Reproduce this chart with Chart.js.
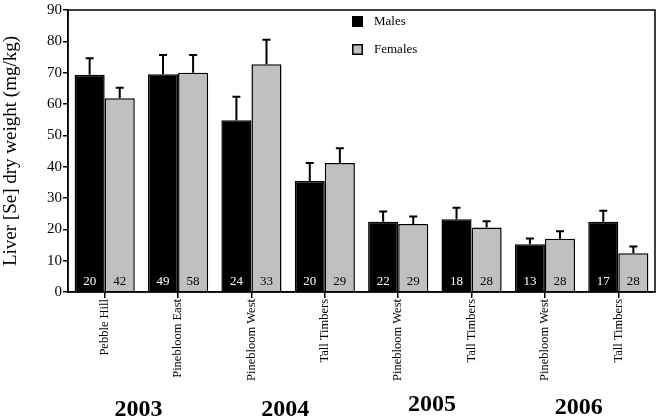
<!DOCTYPE html>
<html>
<head>
<meta charset="utf-8">
<script src="https://cdn.jsdelivr.net/npm/chart.js@4.4.1/dist/chart.umd.min.js"></script>
<style>
  html, body { margin: 0; padding: 0; background: #fff; }
  #wrap { width: 660px; height: 417px; position: relative; }
</style>
</head>
<body>
<div id="wrap"><canvas id="c" width="660" height="417"></canvas></div>
<script>
const categories = ['Pebble Hill', 'Pinebloom East', 'Pinebloom West', 'Tall Timbers',
                    'Pinebloom West', 'Tall Timbers', 'Pinebloom West', 'Tall Timbers'];
const years = ['2003', '2004', '2005', '2006'];
const malesMean = [69.3, 69.5, 54.8, 35.4, 22.4, 23.2, 15.2, 22.4];
const malesSE   = [5.3, 6.1, 7.5, 5.8, 3.3, 3.7, 1.9, 3.5];
const femalesMean = [61.8, 70.0, 72.7, 41.2, 21.7, 20.6, 17.0, 12.4];
const femalesSE   = [3.4, 5.6, 7.8, 4.7, 2.4, 2.0, 2.4, 2.1];
const malesN   = [20, 49, 24, 20, 22, 18, 13, 17];
const femalesN = [42, 58, 33, 29, 29, 28, 28, 28];
const yTicks = [0, 10, 20, 30, 40, 50, 60, 70, 80, 90];

const SERIF = "'Liberation Serif', 'Times New Roman', serif";

const extrasPlugin = {
  id: 'extras',
  afterDatasetsDraw(chart) {
    const ctx = chart.ctx;
    const y = chart.scales.y;
    const x = chart.scales.x;
    const area = chart.chartArea;
    const errs = [malesSE, femalesSE];
    const ns = [malesN, femalesN];
    ctx.save();
    chart.data.datasets.forEach((ds, di) => {
      const meta = chart.getDatasetMeta(di);
      meta.data.forEach((bar, i) => {
        const top = y.getPixelForValue(ds.data[i]);
        const et = y.getPixelForValue(ds.data[i] + errs[di][i]);
        ctx.strokeStyle = '#000';
        ctx.lineWidth = 2;
        ctx.beginPath();
        ctx.moveTo(bar.x, top);
        ctx.lineTo(bar.x, et);
        ctx.moveTo(bar.x - 4, et);
        ctx.lineTo(bar.x + 4, et);
        ctx.stroke();
        ctx.fillStyle = di === 0 ? '#fff' : '#000';
        ctx.font = '13px ' + SERIF;
        ctx.textAlign = 'center';
        ctx.textBaseline = 'middle';
        ctx.fillText(String(ns[di][i]), bar.x, area.bottom - 10);
      });
    });
    ctx.strokeStyle = '#000';
    ctx.lineWidth = 1.5;
    ctx.strokeRect(area.left, area.top, area.right - area.left, area.bottom - area.top);
    const lx = 352, ly = [16, 44];
    chart.data.datasets.forEach((ds, di) => {
      ctx.fillStyle = ds.backgroundColor;
      ctx.fillRect(lx, ly[di], 11, 11);
      ctx.lineWidth = 1.5;
      ctx.strokeStyle = '#000';
      ctx.strokeRect(lx + 0.75, ly[di] + 0.75, 9.5, 9.5);
      ctx.fillStyle = '#000';
      ctx.font = '13px ' + SERIF;
      ctx.textAlign = 'left';
      ctx.textBaseline = 'middle';
      ctx.fillText(ds.label, 374, ly[di] + 5.5);
    });
    const yearBase = [416, 416, 411, 414];
    ctx.font = 'bold 24px ' + SERIF;
    ctx.textAlign = 'center';
    ctx.textBaseline = 'alphabetic';
    ctx.fillStyle = '#000';
    years.forEach((yr, k) => {
      const cx = (x.getPixelForValue(2 * k) + x.getPixelForValue(2 * k + 1)) / 2;
      ctx.fillText(yr, cx - 3, yearBase[k]);
    });
    ctx.restore();
  }
};

new Chart(document.getElementById('c'), {
  type: 'bar',
  data: {
    labels: categories,
    datasets: [
      { label: 'Males', data: malesMean, backgroundColor: '#000000', borderColor: '#000', borderWidth: 1.5,
        categoryPercentage: 0.82, barPercentage: 1.0 },
      { label: 'Females', data: femalesMean, backgroundColor: '#c0c0c0', borderColor: '#000', borderWidth: 1.5,
        categoryPercentage: 0.82, barPercentage: 1.0 }
    ]
  },
  options: {
    responsive: false,
    animation: false,
    devicePixelRatio: 1,
    layout: { padding: { top: 5, right: 5, left: 0, bottom: 0 } },
    plugins: { legend: { display: false }, tooltip: { enabled: false } },
    scales: {
      x: {
        grid: { display: true, drawOnChartArea: false, drawTicks: true, tickLength: 6, color: '#000', lineWidth: 1.5, offset: false },
        border: { display: true, color: '#000', width: 1.5 },
        ticks: { color: '#000', font: { family: SERIF, size: 12.5 }, minRotation: 90, maxRotation: 90, padding: 1, autoSkip: false },
        afterFit(scale) { scale.height = 125; }
      },
      y: {
        min: 0, max: 90,
        afterBuildTicks(scale) { scale.ticks = yTicks.map(v => ({ value: v })); },
        grid: { display: true, drawOnChartArea: false, drawTicks: true, tickLength: 5, color: '#000', lineWidth: 1.5 },
        border: { display: true, color: '#000', width: 1.5 },
        ticks: { color: '#000', font: { family: SERIF, size: 15 }, padding: 1 },
        title: { display: true, text: 'Liver [Se] dry weight (mg/kg)', color: '#000', font: { family: SERIF, size: 19 }, padding: 0 },
        afterFit(scale) { scale.width = 68; }
      }
    }
  },
  plugins: [extrasPlugin]
});
</script>
</body>
</html>
